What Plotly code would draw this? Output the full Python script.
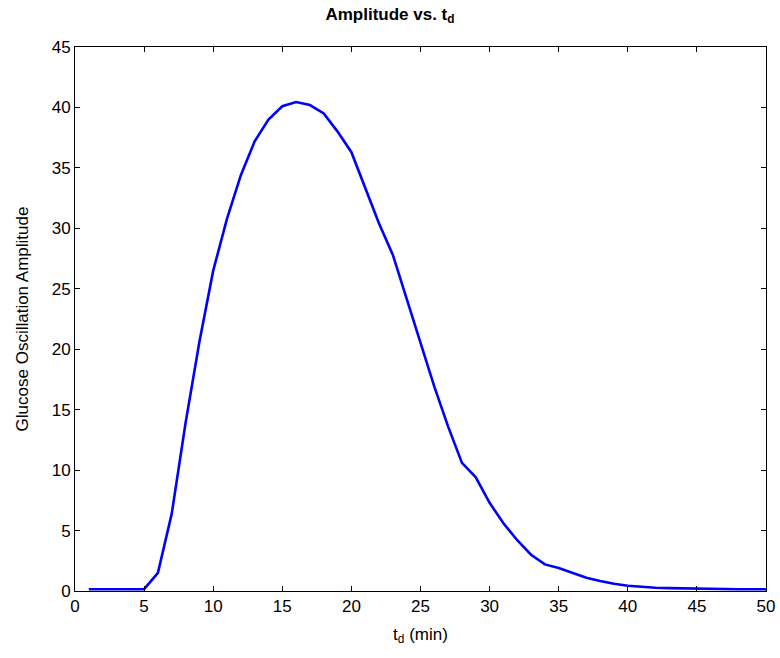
import plotly.graph_objects as go

td = list(range(1, 51))
amplitude = [
    0.15, 0.15, 0.15, 0.15, 0.15,      # 1-5
    1.5, 6.4, 13.9, 20.6, 26.5,         # 6-10
    30.8, 34.4, 37.2, 39.0, 40.1,       # 11-15
    40.45, 40.2, 39.5, 38.0, 36.3,      # 16-20
    33.4, 30.4, 27.8, 24.1, 20.4,       # 21-25
    16.9, 13.6, 10.6, 9.4, 7.3,         # 26-30
    5.6, 4.2, 3.0, 2.2, 1.9,            # 31-35
    1.5, 1.1, 0.83, 0.6, 0.44,          # 36-40
    0.33, 0.27, 0.24, 0.22, 0.15,       # 41-45
    0.15, 0.15, 0.15, 0.15, 0.15,       # 46-50
]
x_ticks = list(range(0, 51, 5))
y_ticks = list(range(0, 46, 5))

FONT = "Liberation Sans, Arial, sans-serif"

fig = go.Figure()
fig.add_trace(go.Scatter(
    x=td, y=amplitude, mode="lines",
    line=dict(color="#0000FF", width=2.6),
    showlegend=False, hoverinfo="skip",
))

axis_common = dict(
    showline=True, linecolor="black", linewidth=1, mirror="ticks",
    ticks="inside", ticklen=5, tickcolor="black", tickwidth=1,
    showgrid=False, zeroline=False, automargin=False,
    tickfont=dict(family=FONT, size=17, color="black"),
)

fig.update_layout(
    width=780, height=658,
    margin=dict(l=75, r=14, t=47, b=67),
    paper_bgcolor="white", plot_bgcolor="white",
    title=dict(
        text="<b>Amplitude vs. t<sub>d</sub></b>",
        x=0.5, xanchor="center", y=0.988, yanchor="top",
        font=dict(family=FONT, size=17, color="black"),
    ),
    xaxis=dict(
        range=[0, 50], tickvals=x_ticks,
        title=dict(text="t<sub>d</sub> (min)", standoff=12,
                   font=dict(family=FONT, size=17, color="black")),
        **axis_common,
    ),
    yaxis=dict(
        range=[0, 45], tickvals=y_ticks,
        title=dict(text="Glucose Oscillation Amplitude", standoff=18,
                   font=dict(family=FONT, size=17, color="black")),
        **axis_common,
    ),
)

fig.write_html("out.html")
